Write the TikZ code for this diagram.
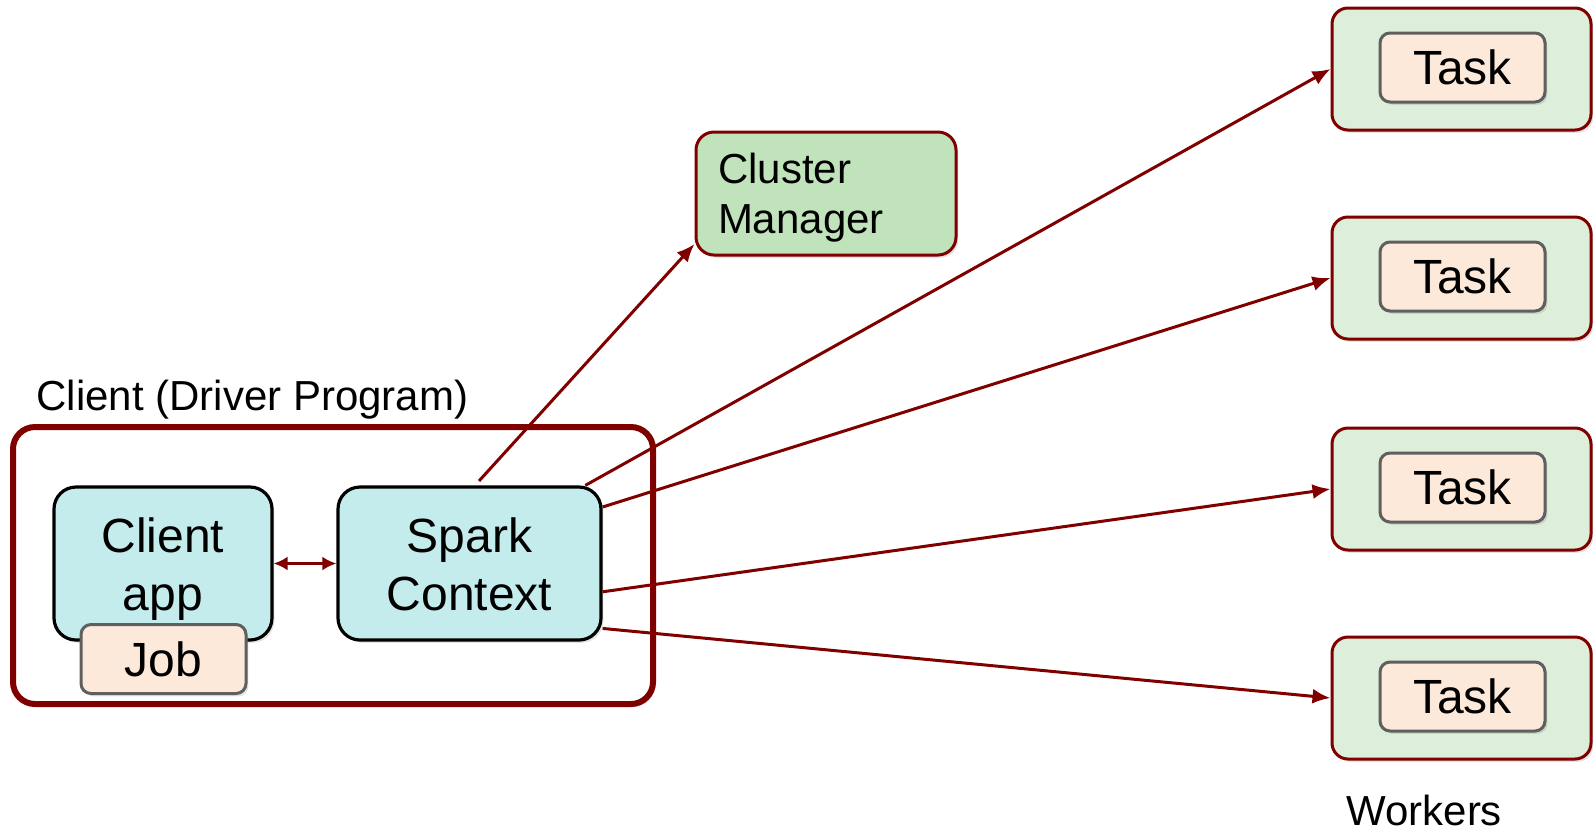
\documentclass[tikz,border=0pt]{standalone}
\usepackage{fontspec}
\setmainfont{Liberation Sans}
\usepackage[HTML]{xcolor}
\usepackage{tikz}
\usetikzlibrary{positioning, arrows.meta, calc, shadows}

\definecolor{sparkred}{HTML}{800000}
\definecolor{appcyan}{HTML}{C5ECEC}
\definecolor{jobpeach}{HTML}{FCE9DA}
\definecolor{mgrgreen}{HTML}{C1E3BB}
\definecolor{wrkgreen}{HTML}{DDEEDA}
\definecolor{jobgray}{HTML}{5F5F5F}

% struts that fix where two-line labels sit in their box
\newcommand{\hightop}[1]{\rule{0pt}{#1}}
\newcommand{\lowbot}{\rule[-6pt]{0pt}{6pt}}

\begin{document}
\begin{tikzpicture}[x=0.5pt, y=-0.5pt,
  softshadow/.style={drop shadow={opacity=0.22, shadow xshift=1.2pt, shadow yshift=-1.4pt}},
  ctx/.style={draw=black, line width=1.6pt, fill=appcyan, rounded corners=11pt,
    minimum width=109pt, minimum height=76.5pt, inner sep=0pt, align=center,
    font=\fontsize{24}{29}\selectfont, softshadow},
  piece/.style={draw=jobgray, line width=1.5pt, fill=jobpeach, rounded corners=5pt,
    minimum width=82.5pt, minimum height=34.5pt, inner sep=0pt, softshadow},
  worker/.style={draw=sparkred, line width=1.5pt, fill=wrkgreen, rounded corners=8pt,
    minimum width=129.5pt, minimum height=61pt, softshadow},
  link/.style={draw=sparkred, line width=1.5pt, >={Latex[length=9pt,width=7.5pt]}},
  lbl/.style={anchor=base west, inner sep=0pt, font=\fontsize{21}{25}\selectfont}]
\useasboundingbox (0,0) rectangle (1593,832);

% driver side
\node[draw=sparkred, line width=3pt, fill=white, rounded corners=11pt,
  minimum width=320pt, minimum height=138.5pt, softshadow] (client) at (333,565.5) {};
\node[lbl] (drvlbl) at (36,410.5) {Client (Driver Program)};

\node[ctx] (app) at (163,563.5) {\hightop{24.2pt}Client\\app\lowbot};
\node[piece, font=\fontsize{24}{28}\selectfont] (job) at (163.5,659) {Job};
\node[ctx, minimum width=131.5pt] (spark) at (469.5,563.5) {\hightop{24.2pt}Spark\\Context\lowbot};

\node[draw=sparkred, line width=1.5pt, fill=mgrgreen, rounded corners=9pt,
  text width=108pt, inner xsep=11pt, inner ysep=0pt, minimum height=61.5pt, align=left,
  font=\fontsize{21}{25}\selectfont, softshadow] (cm) at (826,193.5) {\hightop{21.2pt}Cluster\\Manager\lowbot};

% worker nodes, one task each
\foreach \i/\y in {1/69,2/278,3/489,4/698} {
  \node[worker] (w\i) at (1461.5,\y) {};
  \node[piece, font=\fontsize{24}{29}\selectfont] (t\i) at (1462.5,\y-1.5) {Task};
}
\node[lbl] (wrklbl) at (1346,825) {Workers};

% connections
\draw[link,<->,>={Latex[length=7pt,width=7pt]}] (app.east) -- (spark.west);
\draw[link,->,shorten <=3pt] (spark.86) -- (cm.201);
\draw[link,->] (spark.34) -- (w1.west);
\draw[link,->] (spark.23) -- (w2.west);
\draw[link,->] (spark.-12.5) -- (w3.west);
\draw[link,->] (spark.-26.5) -- (w4.west);
\end{tikzpicture}
\end{document}
